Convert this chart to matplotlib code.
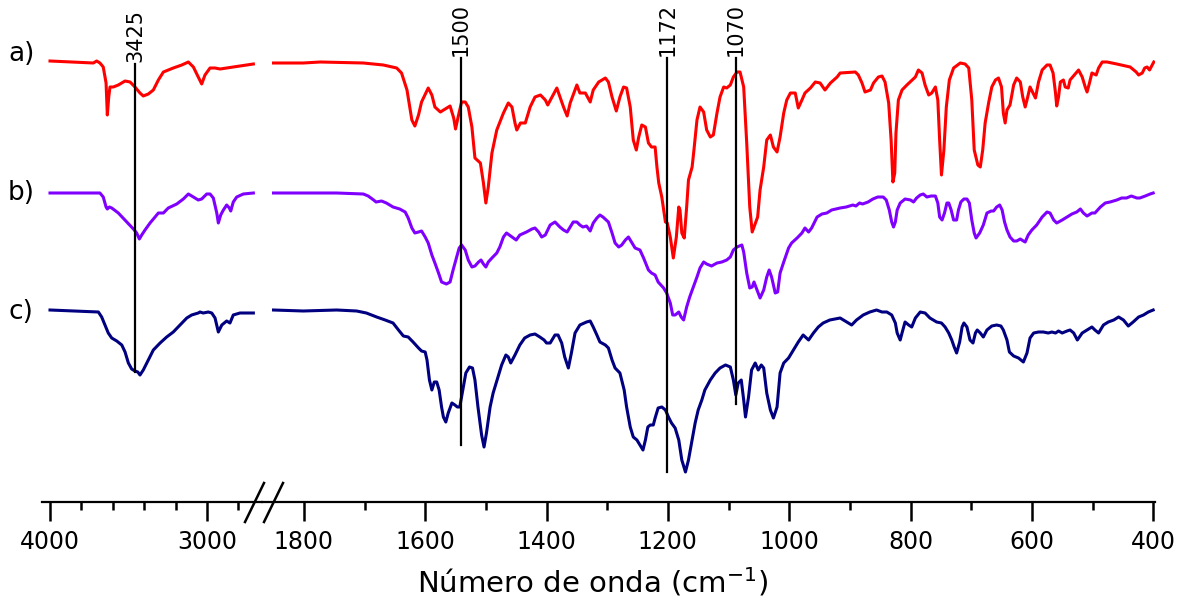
import numpy as np
import matplotlib
matplotlib.use('Agg')
import matplotlib.pyplot as plt
from matplotlib.lines import Line2D

# FTIR spectra, (wavenumber cm-1, transmittance in arbitrary offset units)
a_left = [(4000, 439), (3724, 437), (3703, 439), (3682, 437), (3661, 433), (3643, 417), (3635, 385),
          (3626, 403), (3618, 413), (3597, 413), (3565, 415), (3522, 419), (3490, 418), (3459, 413),
          (3427, 407), (3406, 404), (3374, 406), (3342, 410), (3310, 420), (3278, 428), (3215, 432),
          (3161, 435), (3119, 438), (3087, 433), (3056, 423), (3034, 416), (3013, 425), (2981, 432),
          (2949, 432), (2917, 431), (2833, 433), (2705, 436)]
a_right = [(1850, 437), (1801, 437), (1773, 438), (1702, 437), (1669, 435), (1647, 432), (1639, 427),
           (1630, 410), (1622, 380), (1617, 374), (1611, 385), (1606, 398), (1595, 412), (1589, 405),
           (1584, 393), (1575, 388), (1559, 394), (1553, 382), (1550, 371), (1545, 385), (1540, 398),
           (1534, 398), (1529, 393), (1523, 373), (1518, 342), (1509, 337), (1504, 317), (1500, 297),
           (1496, 313), (1490, 347), (1482, 370), (1471, 387), (1463, 397), (1457, 393), (1452, 377),
           (1449, 370), (1443, 377), (1435, 377), (1427, 393), (1419, 403), (1410, 405), (1402, 400),
           (1398, 395), (1383, 412), (1372, 393), (1366, 384), (1361, 397), (1350, 415), (1345, 407),
           (1336, 407), (1328, 398), (1323, 410), (1314, 418), (1303, 422), (1298, 418), (1292, 403),
           (1285, 389), (1279, 403), (1273, 413), (1268, 412), (1262, 393), (1257, 360), (1252, 350),
           (1248, 363), (1243, 375), (1237, 373), (1232, 357), (1227, 353), (1221, 353), (1218, 333),
           (1215, 317), (1210, 303), (1204, 278), (1201, 277), (1196, 263), (1191, 242), (1186, 263),
           (1182, 293), (1180, 290), (1177, 267), (1173, 262), (1169, 293), (1166, 320), (1160, 333),
           (1157, 350), (1152, 380), (1147, 393), (1141, 388), (1136, 370), (1130, 363), (1125, 365),
           (1119, 387), (1114, 403), (1108, 413), (1103, 412), (1097, 415), (1092, 423), (1086, 428),
           (1081, 428), (1075, 413), (1070, 357), (1065, 293), (1061, 268), (1058, 273), (1052, 283),
           (1048, 310), (1042, 333), (1037, 360), (1031, 365), (1026, 353), (1020, 348), (1015, 363),
           (1009, 387), (1004, 400), (998, 407), (990, 407), (985, 392), (979, 400), (974, 407),
           (965, 412), (957, 418), (949, 417), (941, 410), (932, 417), (921, 423), (916, 427),
           (891, 428), (886, 425), (880, 417), (875, 408), (866, 410), (861, 417), (853, 423),
           (847, 424), (842, 418), (836, 397), (832, 360), (829, 318), (826, 327), (824, 367),
           (820, 400), (814, 410), (806, 415), (792, 423), (787, 430), (781, 427), (776, 415),
           (770, 405), (765, 407), (759, 413), (755, 400), (752, 360), (749, 325), (745, 350),
           (741, 393), (736, 420), (729, 432), (718, 437), (710, 436), (704, 432), (699, 400),
           (695, 350), (689, 335), (685, 333), (681, 350), (677, 377), (671, 398), (666, 413),
           (660, 420), (655, 422), (650, 413), (647, 387), (644, 377), (641, 390), (636, 395),
           (630, 415), (625, 422), (619, 418), (615, 403), (611, 393), (608, 400), (603, 413),
           (598, 407), (594, 402), (589, 418), (583, 430), (575, 435), (570, 435), (565, 427),
           (561, 407), (559, 394), (556, 403), (553, 418), (548, 420), (545, 413), (540, 412),
           (537, 420), (523, 430), (517, 423), (512, 413), (509, 408), (505, 417), (501, 427),
           (494, 425), (490, 432), (484, 438), (476, 438), (460, 436), (438, 433), (428, 428),
           (424, 425), (418, 427), (414, 432), (410, 433), (406, 430), (399, 438)]

b_left = [(4000, 307), (3682, 307), (3661, 303), (3643, 293), (3635, 291), (3622, 293), (3607, 292),
          (3565, 287), (3511, 278), (3469, 271), (3448, 267), (3431, 261), (3416, 265), (3395, 270),
          (3363, 277), (3331, 283), (3310, 287), (3278, 287), (3247, 292), (3193, 296), (3151, 301),
          (3119, 306), (3087, 303), (3056, 300), (3034, 301), (3002, 306), (2981, 306), (2960, 302),
          (2938, 287), (2928, 277), (2913, 285), (2896, 290), (2875, 295), (2858, 292), (2849, 289),
          (2833, 298), (2811, 303), (2769, 306), (2705, 307)]
b_right = [(1850, 307), (1801, 307), (1746, 307), (1702, 306), (1694, 304), (1685, 300), (1681, 298),
           (1672, 299), (1664, 297), (1653, 293), (1642, 291), (1633, 288), (1628, 282), (1622, 272),
           (1617, 267), (1611, 268), (1606, 269), (1600, 263), (1595, 257), (1589, 245), (1584, 237),
           (1578, 227), (1573, 218), (1565, 216), (1559, 218), (1554, 230), (1548, 243), (1544, 252),
           (1540, 255), (1534, 250), (1529, 240), (1523, 233), (1518, 234), (1512, 238), (1508, 240),
           (1504, 236), (1500, 233), (1496, 238), (1490, 242), (1482, 247), (1477, 253), (1471, 263),
           (1466, 267), (1457, 263), (1450, 260), (1444, 265), (1433, 268), (1424, 271), (1419, 272),
           (1413, 268), (1408, 263), (1402, 265), (1394, 275), (1386, 278), (1378, 273), (1372, 270),
           (1366, 268), (1361, 273), (1356, 278), (1350, 278), (1345, 275), (1340, 273), (1334, 274),
           (1328, 269), (1323, 277), (1317, 282), (1312, 285), (1307, 283), (1298, 278), (1292, 267),
           (1287, 257), (1281, 253), (1276, 255), (1270, 260), (1265, 263), (1260, 258), (1254, 252),
           (1246, 250), (1240, 242), (1232, 230), (1227, 227), (1221, 225), (1216, 218), (1207, 212),
           (1202, 207), (1196, 197), (1192, 185), (1188, 185), (1182, 188), (1178, 183), (1174, 180),
           (1169, 193), (1164, 203), (1158, 213), (1152, 223), (1147, 232), (1141, 238), (1136, 236),
           (1128, 234), (1119, 237), (1111, 238), (1103, 240), (1097, 243), (1092, 250), (1086, 253),
           (1078, 255), (1075, 248), (1070, 227), (1065, 212), (1061, 213), (1058, 218), (1053, 210),
           (1048, 202), (1042, 210), (1037, 223), (1033, 230), (1029, 223), (1023, 207), (1019, 208),
           (1015, 227), (1009, 238), (1001, 252), (996, 257), (987, 262), (979, 267), (974, 272),
           (968, 268), (963, 272), (954, 283), (946, 286), (938, 287), (930, 290), (916, 292),
           (906, 293), (895, 295), (890, 294), (884, 297), (879, 296), (870, 298), (862, 301),
           (854, 303), (845, 303), (840, 300), (835, 290), (831, 278), (828, 273), (825, 278),
           (822, 290), (817, 297), (809, 301), (800, 300), (795, 298), (790, 302), (784, 305),
           (779, 306), (773, 303), (766, 304), (759, 304), (755, 297), (752, 283), (748, 280),
           (744, 287), (740, 297), (737, 297), (733, 290), (729, 280), (724, 280), (721, 290),
           (717, 298), (712, 301), (707, 301), (703, 297), (699, 280), (695, 267), (692, 262),
           (686, 267), (680, 275), (674, 287), (667, 289), (663, 289), (658, 293), (653, 295),
           (649, 290), (645, 278), (641, 270), (636, 263), (630, 259), (625, 259), (619, 261),
           (614, 259), (611, 258), (606, 265), (600, 270), (592, 275), (583, 283), (575, 288),
           (570, 287), (564, 280), (559, 277), (550, 280), (542, 283), (534, 286), (526, 288),
           (520, 291), (515, 287), (509, 284), (501, 287), (496, 287), (487, 293), (479, 297),
           (471, 298), (460, 300), (452, 302), (444, 302), (436, 304), (427, 302), (422, 302),
           (413, 304), (405, 306), (400, 307)]

c_left = [(4000, 190), (3692, 188), (3671, 183), (3650, 175), (3629, 167), (3607, 162), (3575, 159),
          (3543, 155), (3522, 148), (3501, 137), (3480, 131), (3459, 129), (3441, 128), (3427, 125),
          (3406, 130), (3374, 140), (3342, 150), (3299, 157), (3257, 163), (3215, 168), (3172, 175),
          (3129, 182), (3098, 185), (3056, 187), (3045, 188), (3024, 187), (2992, 188), (2970, 187),
          (2949, 182), (2928, 168), (2906, 175), (2875, 179), (2854, 177), (2833, 185), (2790, 187),
          (2705, 187)]
c_right = [(1850, 190), (1801, 189), (1746, 190), (1713, 189), (1697, 187), (1680, 183), (1666, 180),
           (1653, 177), (1644, 170), (1636, 164), (1628, 163), (1620, 158), (1611, 152), (1606, 149),
           (1600, 148), (1597, 140), (1593, 120), (1589, 110), (1585, 118), (1581, 118), (1577, 110),
           (1573, 93), (1570, 83), (1566, 78), (1562, 87), (1556, 97), (1551, 95), (1547, 93),
           (1543, 93), (1538, 110), (1533, 127), (1527, 133), (1522, 132), (1518, 120), (1513, 93),
           (1507, 65), (1503, 53), (1499, 67), (1493, 93), (1488, 107), (1480, 123), (1474, 135),
           (1467, 145), (1463, 143), (1459, 137), (1452, 145), (1444, 155), (1436, 162), (1427, 165),
           (1419, 166), (1411, 163), (1404, 160), (1400, 157), (1394, 157), (1386, 165), (1381, 165),
           (1375, 157), (1370, 143), (1364, 132), (1359, 147), (1353, 167), (1345, 175), (1334, 178),
           (1328, 179), (1323, 173), (1317, 165), (1312, 158), (1303, 155), (1298, 152), (1292, 140),
           (1287, 132), (1279, 127), (1272, 110), (1268, 93), (1262, 73), (1257, 63), (1251, 60),
           (1246, 55), (1241, 50), (1237, 60), (1233, 73), (1229, 75), (1224, 75), (1221, 82),
           (1216, 92), (1210, 93), (1204, 90), (1199, 83), (1194, 77), (1188, 72), (1182, 60),
           (1177, 40), (1171, 28), (1166, 40), (1160, 60), (1155, 77), (1150, 90), (1144, 100),
           (1139, 110), (1130, 120), (1122, 127), (1114, 132), (1105, 135), (1097, 133), (1092, 120),
           (1088, 105), (1084, 117), (1079, 120), (1075, 100), (1072, 83), (1067, 103), (1062, 130),
           (1056, 137), (1051, 130), (1046, 135), (1042, 132), (1037, 107), (1031, 90), (1026, 82),
           (1020, 93), (1015, 127), (1009, 137), (1001, 142), (993, 150), (985, 158), (977, 165),
           (968, 160), (960, 167), (952, 173), (944, 177), (933, 180), (916, 182), (905, 178),
           (897, 175), (889, 180), (878, 185), (867, 188), (856, 190), (847, 188), (839, 188),
           (831, 185), (825, 177), (822, 167), (817, 160), (814, 167), (809, 178), (803, 175),
           (798, 173), (792, 182), (784, 188), (776, 187), (768, 182), (757, 178), (749, 177),
           (743, 173), (737, 167), (732, 160), (728, 153), (724, 147), (719, 158), (715, 173),
           (712, 177), (707, 173), (702, 160), (697, 157), (693, 167), (690, 170), (685, 167),
           (680, 163), (674, 170), (666, 174), (658, 175), (651, 174), (647, 170), (641, 160),
           (637, 148), (630, 144), (622, 142), (614, 138), (608, 147), (603, 162), (597, 167),
           (589, 168), (581, 168), (573, 167), (567, 168), (561, 167), (556, 169), (550, 167),
           (542, 169), (537, 170), (531, 167), (525, 160), (517, 167), (509, 170), (501, 173),
           (496, 170), (490, 167), (482, 175), (474, 178), (465, 180), (457, 183), (449, 180),
           (441, 174), (433, 178), (424, 183), (416, 185), (408, 188), (400, 190)]

curve_labels = ['a)', 'b)', 'c)']
curve_colors = ['#ff0000', '#8000ff', '#000080']

band_labels = ['3425', '1500', '1172', '1070']
band_positions = [3459, 1541, 1201, 1088]
band_top = [436, 442, 442, 442]
band_bottom = [128, 55, 28, 96]

W, H = 1190, 599
fig = plt.figure(figsize=(W / 100, H / 100), dpi=100)
plt.rcParams['font.family'] = ['DejaVu Sans']

ax_l = fig.add_axes([42 / W, 97 / H, 220 / W, 502 / H])
ax_r = fig.add_axes([262 / W, 97 / H, 893 / W, 502 / H])

for ax in (ax_l, ax_r):
    for s in ('top', 'left', 'right'):
        ax.spines[s].set_visible(False)
    ax.spines['bottom'].set_linewidth(1.6)
    ax.set_yticks([])
    ax.set_ylim(-2, 500)
    ax.patch.set_visible(False)
    ax.tick_params(axis='x', which='major', direction='out', length=14, width=1.8,
                   pad=6, labelsize=17)
    ax.tick_params(axis='x', which='minor', direction='out', length=6, width=1.8)

ax_l.set_xlim(4051, 2650)
ax_l.set_xticks([4000, 3000])
ax_l.set_xticks([3800, 3600, 3400, 3200, 2800], minor=True)
ax_r.set_xlim(1869, 397)
ax_r.set_xticks(list(range(1800, 399, -200)))
ax_r.set_xticks(list(range(1700, 499, -200)), minor=True)

for left, right, col in zip([a_left, b_left, c_left], [a_right, b_right, c_right], curve_colors):
    x, y = np.array(left).T
    ax_l.plot(x, y, color=col, lw=2.2)
    x, y = np.array(right).T
    ax_r.plot(x, y, color=col, lw=2.2)

# marker lines for the bands
for lab, pos, top, bot in zip(band_labels, band_positions, band_top, band_bottom):
    ax = ax_l if pos > 2000 else ax_r
    ax.plot([pos, pos], [bot, top], color='black', lw=1.6)
    ax.text(pos, top + 2, lab, rotation=90, ha='center', va='bottom', fontsize=15)

# curve labels
for lab, ypix in zip(curve_labels, [54, 193, 312]):
    fig.text(8 / W, 1 - ypix / H, lab, ha='left', va='center', fontsize=19)

fig.text(592 / W, 1 - 592 / H, 'Número de onda (cm$^{-1}$)', ha='center', va='baseline',
         fontsize=21)

# axis break marks
for x0 in (245, 264):
    fig.add_artist(Line2D([x0 / W, (x0 + 19) / W], [1 - 522 / H, 1 - 483 / H],
                          transform=fig.transFigure, color='black', lw=1.8))

fig.savefig('out.png', dpi=100)
